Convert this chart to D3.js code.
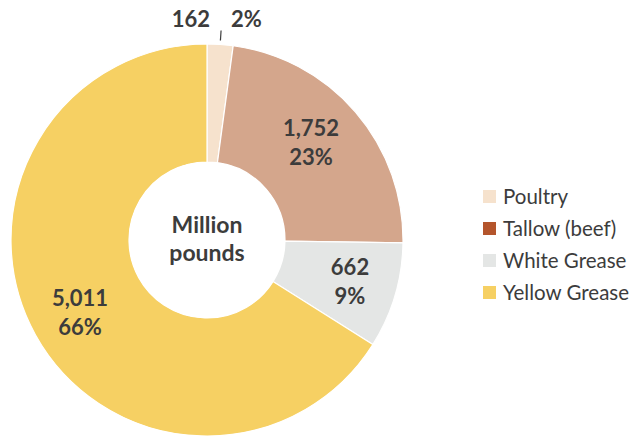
<!DOCTYPE html>
<html><head><meta charset="utf-8">
<script src="https://cdn.jsdelivr.net/npm/d3@7"></script>
<style>body{margin:0;background:#fff;} text{font-family:Lato,"Open Sans",sans-serif;}</style>
</head><body>
<svg id="c" width="634" height="439"></svg>
<script>
const categories = ["Poultry", "Tallow (beef)", "White Grease", "Yellow Grease"];
const values = [162, 1752, 662, 5011];
const percents = ["2%", "23%", "9%", "66%"];
const sliceColors = ["#f6e2cd", "#d4a68c", "#e4e6e5", "#f6d063"];
const legendColors = ["#f6e2cd", "#b4552c", "#e4e6e5", "#f6d063"];

const svg = d3.select("#c");
const cx = 207, cy = 240, R = 196, r = 78;
const g = svg.append("g").attr("transform", `translate(${cx},${cy})`);
const pie = d3.pie().sort(null).value(d => d)(values);
const arc = d3.arc().innerRadius(r).outerRadius(R);
g.selectAll("path").data(pie).join("path")
  .attr("d", arc).attr("fill", (d,i) => sliceColors[i])
  .attr("stroke", "#fff").attr("stroke-width", 1.2);

const fmt = d3.format(",");
const labelPos = [null, [104, -104], [143, 35], [-127, 66]];
pie.forEach((d, i) => {
  if (i === 0) return;
  const [x, y] = labelPos[i];
  const t = g.append("text").attr("text-anchor", "middle").attr("fill", "#3c3c3c")
    .attr("font-size", 22).attr("font-weight", 700);
  t.append("tspan").attr("x", x).attr("y", y).text(fmt(values[i]));
  t.append("tspan").attr("x", x).attr("y", y + 29).text(percents[i]);
});
// Poultry label outside
const p0 = pie[0];
const a0 = (p0.startAngle + p0.endAngle) / 2;
g.append("line").attr("x1", Math.sin(a0)*(R+4)).attr("x2", Math.sin(a0)*(R+14))
  .attr("y1", -Math.cos(a0)*(R+4)).attr("y2", -Math.cos(a0)*(R+14))
  .attr("stroke", "#3c3c3c").attr("stroke-width", 1.2);
g.append("text").attr("x", 3).attr("y", -213).attr("text-anchor", "end")
  .attr("fill", "#3c3c3c").attr("font-size", 22).attr("font-weight", 700).text(fmt(values[0]));
g.append("text").attr("x", 24).attr("y", -213).attr("text-anchor", "start")
  .attr("fill", "#3c3c3c").attr("font-size", 22).attr("font-weight", 700).text(percents[0]);

// center
g.append("circle").attr("r", r).attr("fill", "#fff");
const ct = g.append("text").attr("text-anchor", "middle").attr("fill", "#3c3c3c")
  .attr("font-size", 23).attr("font-weight", 700);
ct.append("tspan").attr("x", 0).attr("y", -7).text("Million");
ct.append("tspan").attr("x", 0).attr("y", 21).text("pounds");

// legend
const ly = d3.scalePoint().domain(categories).range([197, 293]);
const lg = svg.append("g");
categories.forEach((c, i) => {
  lg.append("rect").attr("x", 483).attr("y", ly(c) - 7).attr("width", 13).attr("height", 13)
    .attr("fill", legendColors[i]);
  lg.append("text").attr("x", 503).attr("y", ly(c) + 7).attr("fill", "#3c3c3c")
    .attr("font-size", 20.5).text(c);
});
</script>
</body></html>
